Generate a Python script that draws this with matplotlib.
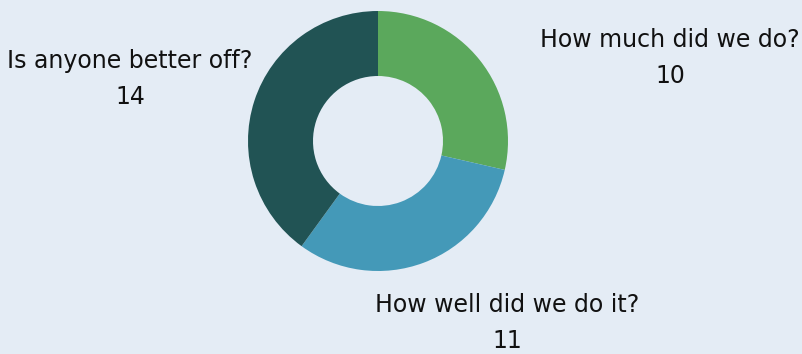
import matplotlib
matplotlib.use('Agg')
import matplotlib.pyplot as plt

labels = ['How much did we do?', 'How well did we do it?', 'Is anyone better off?']
values = [10, 11, 14]
colors = ['#5BA85C', '#4499B8', '#215354']
bg = '#E4ECF5'

# label anchor positions in pixel space (x, y from top)
label_pos = [(670, 58), (507, 323), (130, 79)]

fig = plt.figure(figsize=(8.02, 3.54), dpi=100, facecolor=bg)
ax = fig.add_axes([0, 0, 1, 1])
ax.set_facecolor(bg)
ax.set_xlim(0, 802)
ax.set_ylim(0, 354)
ax.set_aspect('equal')
ax.axis('off')

ax.pie(values, colors=colors, startangle=90, counterclock=False,
       center=(378, 354 - 141), radius=130,
       wedgeprops=dict(width=65, linewidth=0))

for lab, val, (x, y) in zip(labels, values, label_pos):
    ax.text(x, 354 - y, f'{lab}\n{val}', ha='center', va='center',
            fontsize=17, linespacing=1.65, color='#111111')

ax.set_xlim(0, 802)
ax.set_ylim(0, 354)
fig.savefig('out.png', dpi=100, facecolor=bg)
